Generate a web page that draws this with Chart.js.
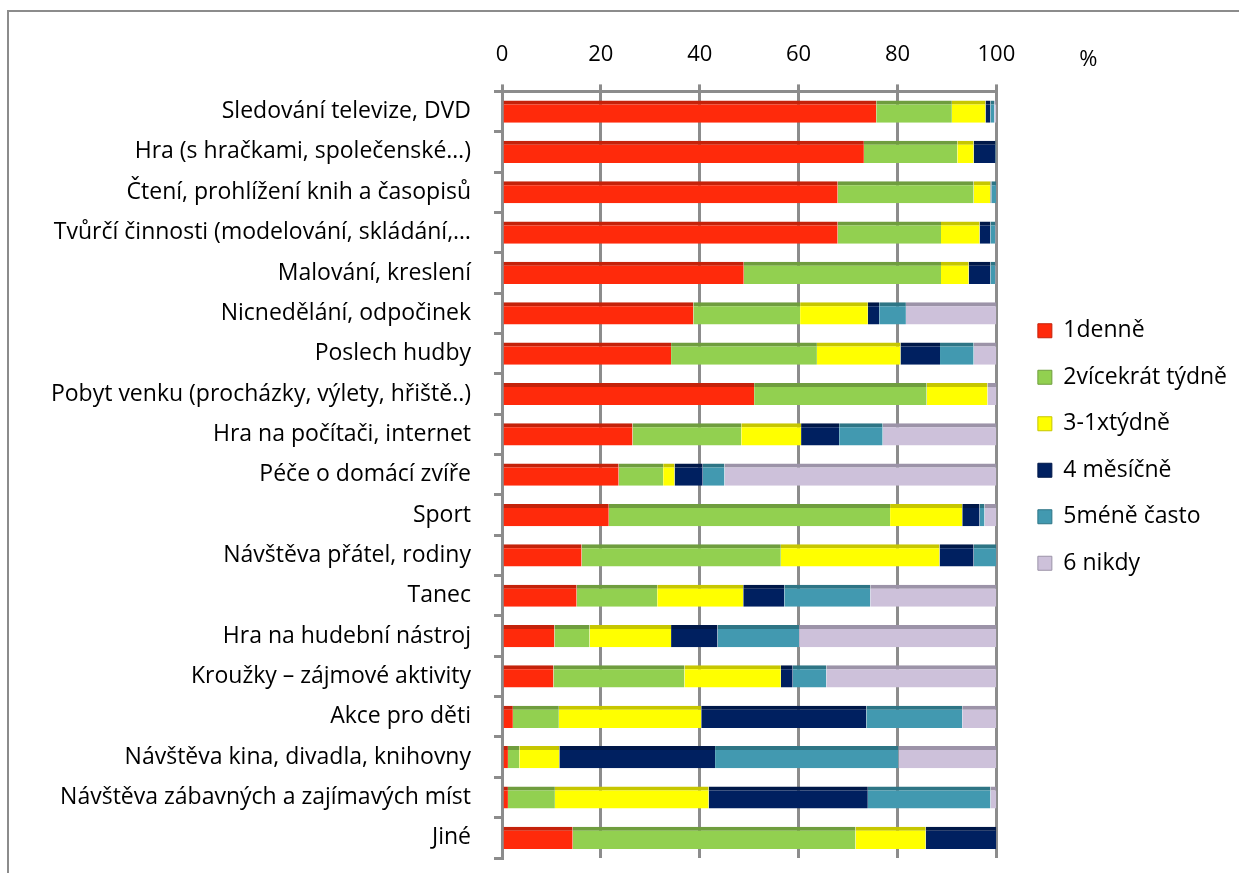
<!DOCTYPE html>
<html>
<head>
<meta charset="utf-8">
<script src="https://cdn.jsdelivr.net/npm/chart.js@4/dist/chart.umd.min.js"></script>
<style>
  html, body { margin: 0; padding: 0; background: #fff; overflow: hidden; }
  #wrap {
    position: absolute; left: 7px; top: 10px;
    width: 1230px; height: 861px;
    border-left: 2px solid #8c8c8c; border-top: 2px solid #8c8c8c;
  }
  canvas { display: block; }
</style>
</head>
<body>
<div id="wrap"><canvas id="chart" width="1230" height="861"></canvas></div>
<script>
const activities = [
  'Sledování televize, DVD',
  'Hra (s hračkami, společenské…)',
  'Čtení, prohlížení knih a časopisů',
  'Tvůrčí činnosti (modelování, skládání,…',
  'Malování, kreslení',
  'Nicnedělání, odpočinek',
  'Poslech hudby',
  'Pobyt venku (procházky, výlety, hřiště..)',
  'Hra na počítači, internet',
  'Péče o domácí zvíře',
  'Sport',
  'Návštěva přátel, rodiny',
  'Tanec',
  'Hra na hudební nástroj',
  'Kroužky – zájmové aktivity',
  'Akce pro děti',
  'Návštěva kina, divadla, knihovny',
  'Návštěva zábavných a zajímavých míst',
  'Jiné',
];

const denne       = [75.7, 73.2, 67.9, 67.9, 48.9, 38.7, 34.2, 51.0, 26.4, 23.6, 21.6, 16.1, 15.1, 10.6, 10.4, 2.2, 1.2, 1.2, 14.3];
const vicekrat    = [15.3, 18.9, 27.5, 20.9, 39.9, 21.6, 29.5, 34.9, 22.0, 9.0, 56.9, 40.3, 16.3, 7.1, 26.5, 9.3, 2.3, 9.5, 57.2];
const jednouTydne = [6.8, 3.3, 3.4, 7.8, 5.6, 13.7, 16.9, 12.3, 12.1, 2.3, 14.6, 32.1, 17.4, 16.5, 19.5, 28.8, 8.1, 31.1, 14.2];
const mesicne     = [1.0, 4.4, 0.2, 2.2, 4.4, 2.3, 8.0, 0, 7.7, 5.7, 3.5, 6.9, 8.3, 9.4, 2.4, 33.4, 31.5, 32.2, 14.3];
const meneCasto   = [0.8, 0.2, 1.0, 1.0, 1.0, 5.4, 6.8, 0, 8.8, 4.4, 1.0, 4.6, 17.4, 16.5, 6.8, 19.4, 37.1, 24.8, 0];
const nikdy       = [0.4, 0, 0, 0.2, 0.2, 18.3, 4.6, 1.8, 23.0, 55.0, 2.4, 0, 25.5, 39.9, 34.4, 6.9, 19.8, 1.2, 0];

const seriesNames = ['1denně', '2vícekrát týdně', '3-1xtýdně', '4 měsíčně', '5méně často', '6 nikdy'];
const xTicks = [0, 20, 40, 60, 80, 100];

const fontFamily = '"Open Sans", Carlito, Calibri, sans-serif';
const gridGrey = '#8c8c8c';

const faces = ['#ff2a0b', '#92d050', '#ffff00', '#002060', '#4299b0', '#cdc1da'];
const tops  = ['#c4220a', '#6f9d3e', '#c6c600', '#001848', '#2e7585', '#9c93a8'];

const seriesData = [denne, vicekrat, jednouTydne, mesicne, meneCasto, nikdy];

const datasets = seriesData.map((values, i) => ({
  label: seriesNames[i],
  data: values,
  backgroundColor: faces[i],
  borderColor: tops[i],
  borderWidth: { top: 4, right: 0, bottom: 0, left: 0 },
  borderSkipped: false,
  barPercentage: 0.55,
  categoryPercentage: 1,
}));

// percent sign to the right of the top axis
const percentSign = {
  id: 'percentSign',
  afterDraw(chart) {
    const { ctx, chartArea } = chart;
    ctx.save();
    ctx.font = '22px ' + fontFamily;
    ctx.fillStyle = '#000';
    ctx.textAlign = 'center';
    ctx.textBaseline = 'middle';
    ctx.fillText('%', chartArea.right + 92, 48);
    ctx.restore();
  },
};

new Chart(document.getElementById('chart'), {
  type: 'bar',
  data: { labels: activities, datasets },
  plugins: [percentSign],
  options: {
    indexAxis: 'y',
    responsive: false,
    animation: false,
    layout: { padding: { top: 14, bottom: 15, left: 0, right: 2 } },
    scales: {
      x: {
        position: 'top',
        stacked: true,
        min: 0,
        max: 100,
        afterBuildTicks: (scale) => {
          scale.ticks = xTicks.map((v) => ({ value: v }));
        },
        grid: { color: gridGrey, lineWidth: 3, tickLength: 7 },
        border: { color: gridGrey, width: 3 },
        ticks: { color: '#000', padding: 16, font: { family: fontFamily, size: 22 } },
      },
      y: {
        stacked: true,
        afterFit: (scale) => {
          scale.width = 493;
          scale.paddingTop = 0;
          scale.paddingBottom = 0;
        },
        grid: { drawOnChartArea: false, color: gridGrey, lineWidth: 3, tickLength: 8 },
        border: { color: gridGrey, width: 3 },
        ticks: { color: '#000', padding: 23, font: { family: fontFamily, size: 23 } },
      },
      // empty gap between the bars and the legend
      spacer: {
        type: 'linear',
        position: 'right',
        display: false,
        afterFit: (scale) => { scale.width = 18; },
      },
    },
    plugins: {
      tooltip: { enabled: false },
      legend: {
        position: 'right',
        onClick: null,
        // blank title just nudges the items down a little
        title: { display: true, text: ' ', padding: 2, font: { size: 5 } },
        labels: {
          color: '#000',
          boxWidth: 14,
          boxHeight: 14,
          padding: 23.5,
          font: { family: fontFamily, size: 23 },
        },
      },
    },
  },
});
</script>
</body>
</html>
